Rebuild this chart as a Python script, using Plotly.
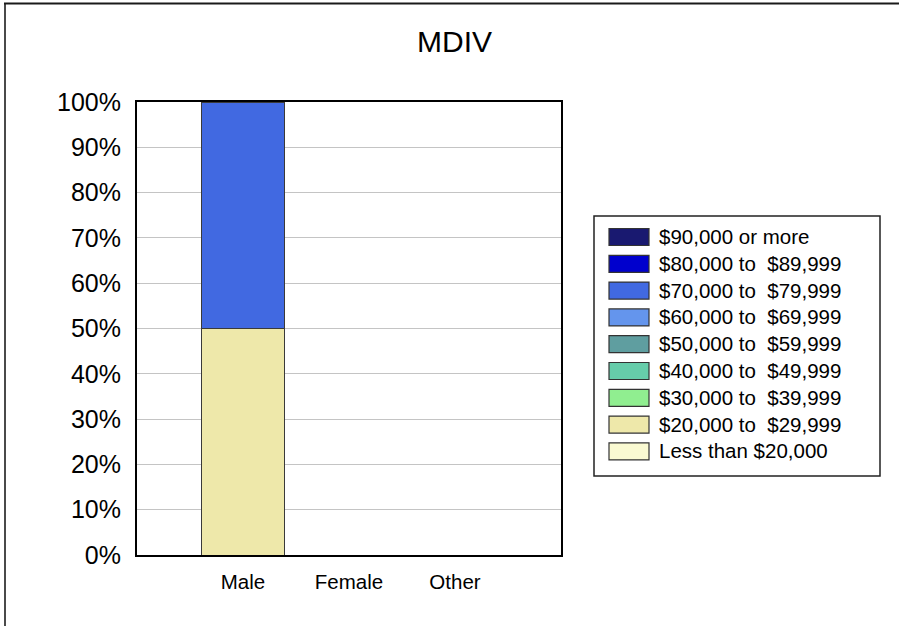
import plotly.graph_objects as go

title = "MDIV"
categories = ["Male", "Female", "Other"]
series_names = [
    "Less than $20,000",
    "$20,000 to  $29,999",
    "$30,000 to  $39,999",
    "$40,000 to  $49,999",
    "$50,000 to  $59,999",
    "$60,000 to  $69,999",
    "$70,000 to  $79,999",
    "$80,000 to  $89,999",
    "$90,000 or more",
]
series_colors = [
    "#FAFAD2", "#EEE8AA", "#90EE90", "#66CDAA", "#5F9EA0",
    "#6495ED", "#4169E1", "#0000CD", "#191970",
]
# percent values per category (Male, Female, Other); None = no bar
series_values = [
    [None, None, None],
    [50, None, None],
    [None, None, None],
    [None, None, None],
    [None, None, None],
    [None, None, None],
    [50, None, None],
    [None, None, None],
    [None, None, None],
]
y_ticks = list(range(0, 101, 10))
y_tick_labels = [f"{v}%" for v in y_ticks]

FONT = "Liberation Sans, Arial, sans-serif"
W, H = 899, 626
L, R, T, B = 137, 561, 102, 555

fig = go.Figure()
for name, color, vals in zip(series_names, series_colors, series_values):
    fig.add_trace(go.Bar(
        x=categories, y=vals, name=name,
        marker=dict(color=color, line=dict(color="#3a3a3a", width=1)),
        width=0.79, showlegend=False,
    ))

def px_x(p):
    return (p - L) / (R - L)

def px_y(p):
    return (B - p) / (B - T)

shapes = []
annotations = []
# outer frame (left and top edges)
shapes.append(dict(type="line", xref="paper", yref="paper",
                   x0=px_x(5), x1=px_x(5), y0=px_y(640), y1=px_y(3),
                   line=dict(color="#4a4a4a", width=2)))
shapes.append(dict(type="line", xref="paper", yref="paper",
                   x0=px_x(4), x1=px_x(910), y0=px_y(3.5), y1=px_y(3.5),
                   line=dict(color="#1a1a1a", width=2)))
# legend box
lx0, lx1, ly0, ly1 = 594, 880, 216, 476
shapes.append(dict(type="rect", xref="paper", yref="paper",
                   x0=px_x(lx0), x1=px_x(lx1), y0=px_y(ly1), y1=px_y(ly0),
                   line=dict(color="#222222", width=1.5), fillcolor="white"))
step = 26.8
for i, (name, color) in enumerate(zip(series_names[::-1], series_colors[::-1])):
    cy = 237 + i * step
    shapes.append(dict(type="rect", xref="paper", yref="paper",
                       x0=px_x(609), x1=px_x(649), y0=px_y(cy + 8.5), y1=px_y(cy - 8.5),
                       line=dict(color="#333333", width=1.2), fillcolor=color))
    annotations.append(dict(xref="paper", yref="paper", x=px_x(657), y=px_y(cy - 0.5),
                            text=name, showarrow=False, xanchor="left", yanchor="middle",
                            font=dict(family=FONT, size=20.5, color="black")))

fig.update_layout(
    width=W, height=H,
    margin=dict(l=L, r=W - R, t=T, b=H - B, pad=0),
    paper_bgcolor="white", plot_bgcolor="white",
    barmode="stack",
    title=dict(text=title, x=454.5 / W, xanchor="center", y=1 - 41 / H, yanchor="middle",
               font=dict(family=FONT, size=30, color="black")),
    font=dict(family=FONT, color="black"),
    shapes=shapes, annotations=annotations,
    xaxis=dict(type="category", range=[-1, 3], showgrid=False, zeroline=False,
               showline=True, linecolor="black", linewidth=2, mirror=True,
               tickfont=dict(size=20.5), ticks="", ticklabelstandoff=7),
    yaxis=dict(range=[0, 100], tickvals=y_ticks, ticktext=y_tick_labels,
               showgrid=True, gridcolor="#c4c4c4", gridwidth=1, zeroline=False,
               showline=True, linecolor="black", linewidth=2, mirror=True,
               tickfont=dict(size=25), ticks="", ticklabelstandoff=9),
)

fig.write_html("out.html", config={"displayModeBar": False},
               post_script="document.body.style.margin='0px';document.body.style.overflow='hidden';")
